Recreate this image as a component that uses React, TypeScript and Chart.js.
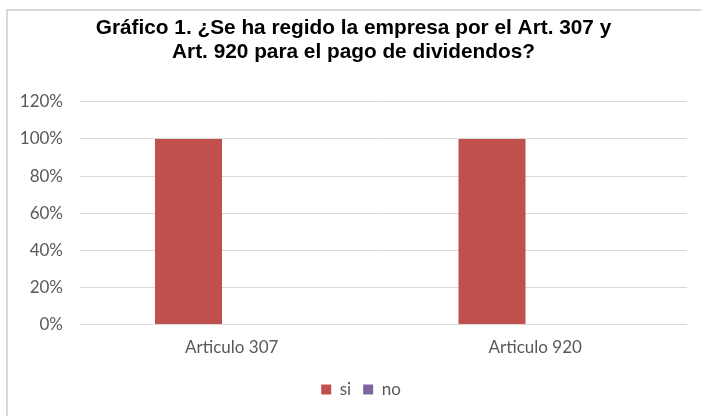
import React, { useEffect, useRef } from "react";
import { Chart, registerables } from "chart.js";

Chart.register(...registerables);

const titleLines = [
  "Gráfico 1. ¿Se ha regido la empresa por el Art. 307 y",
  "Art. 920 para el pago de dividendos?",
];
const categories = ["Articulo 307", "Articulo 920"];
const siValues = [100, 100];
const noValues = [0, 0];
const seriesNames = ["si", "no"];
const seriesColors = ["#C0504D", "#8064A2"];
const yMin = 0;
const yMax = 120;
const yStep = 20;

const blockShift = {
  id: "blockShift",
  beforeDraw(chart: any) {
    if (chart.legend) {
      chart.legend.left = 35;
    }
    if (chart.titleBlock) {
      chart.titleBlock.left = 20;
    }
  },
};

export default function App() {
  const ref = useRef<HTMLCanvasElement | null>(null);

  useEffect(() => {
    if (!ref.current) return;
    const tickFont = { family: "Lato, 'Open Sans', sans-serif", size: 17 };
    const chart = new Chart(ref.current, {
      type: "bar",
      data: {
        labels: categories,
        datasets: [
          {
            label: seriesNames[0],
            data: siValues,
            backgroundColor: seriesColors[0],
            categoryPercentage: 0.57,
            barPercentage: 0.775,
          },
          {
            label: seriesNames[1],
            data: noValues,
            backgroundColor: seriesColors[1],
            categoryPercentage: 0.57,
            barPercentage: 0.775,
          },
        ],
      },
      options: {
        animation: false,
        responsive: false,
        maintainAspectRatio: false,
        layout: { padding: { top: 0, left: 0, right: 14, bottom: 8 } },
        plugins: {
          title: {
            display: true,
            text: titleLines,
            color: "#000000",
            font: { family: "'Liberation Sans', Arial, sans-serif", size: 20.8, weight: "bold", lineHeight: 1.15 },
            padding: { top: 16, bottom: 38 },
          },
          legend: {
            display: true,
            position: "bottom",
            labels: {
              boxWidth: 10,
              boxHeight: 10,
              padding: 12,
              color: "#595959",
              font: tickFont,
            },
          },
          tooltip: { enabled: false },
        },
        scales: {
          x: {
            grid: { display: false },
            border: { display: false },
            ticks: { color: "#595959", font: tickFont, padding: 5 },
            afterFit: (scale: any) => {
              scale.height = scale.height + 6;
            },
          },
          y: {
            min: yMin,
            max: yMax,
            grid: { color: "#d9d9d9", lineWidth: 1, drawTicks: false },
            border: { display: false },
            ticks: {
              stepSize: yStep,
              color: "#595959",
              font: tickFont,
              padding: 17,
              callback: (v: any) => v + "%",
            },
            afterFit: (scale: any) => {
              scale.width = 80;
            },
          },
        },
      },
      plugins: [blockShift],
    });
    return () => chart.destroy();
  }, []);

  return (
    <div style={{ position: "fixed", left: 0, top: 0, width: 701, height: 416, background: "#ffffff", overflow: "hidden" }}>
      <canvas ref={ref} width={701} height={416} style={{ position: "absolute", left: 0, top: 0, width: 701, height: 416 }} />
      <div
        style={{
          position: "absolute",
          left: 6,
          top: 9,
          width: 720,
          height: 430,
          borderTop: "2px solid #d9d9d9",
          borderLeft: "2px solid #d9d9d9",
          pointerEvents: "none",
        }}
      />
    </div>
  );
}
